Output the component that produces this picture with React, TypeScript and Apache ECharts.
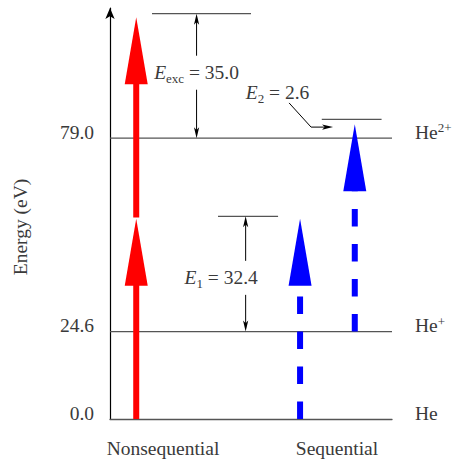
import React, { useEffect, useRef } from "react";
import * as echarts from "echarts";

// ---- data ----
const energyTicks = [0.0, 24.6, 79.0];
const stateLabels = ["He", "He+", "He2+"];
const pathwayLabels = ["Nonsequential", "Sequential"];
const pathwayLabelX = [1.88, 8.05];

// horizontal level segments: [xStart, xEnd, energy]
const levelSegments = [
  [0, 10, 24.6],
  [0, 10, 79.0],
  [3.83, 5.96, 57.0],
  [1.49, 5.0, 114.0],
  [7.51, 9.63, 84.3],
];

// nonsequential arrows (solid red): [x, from, to]
const nonseqArrows = [
  [0.93, 0.0, 56.3],
  [0.93, 56.7, 113.0],
];

// sequential arrows (dashed blue): [x, from, to]
const seqArrows = [
  [6.74, 0.0, 56.3],
  [8.68, 24.6, 82.9],
];

// dimension arrows: [x, from, to, labelCenterEnergy]
const dimArrows = [
  [3.07, 79.0, 114.0, 97.4],
  [4.81, 24.6, 57.0, 39.7],
];

// annotation labels: [x, energy]
const annoPos = [
  [3.07, 97.4],
  [3.94, 39.7],
  [5.94, 91.7],
];
const annoText = [
  "{e|E}{s|exc}{t| = 35.0}",
  "{e|E}{s|1}{t| = 32.4}",
  "{e|E}{s|2}{t| = 2.6}",
];

// E2 leader polyline (x, energy)
const leaderPts = [
  [6.35, 88.9],
  [7.13, 82.1],
  [7.91, 82.1],
];

const FONT = "'Liberation Serif', 'DejaVu Serif', serif";
const TXT = "#3a3a3a";
const FS = 19.5;

const arrowItem = (color: string, dashed: boolean) => (params: any, api: any) => {
  const x = api.value(0);
  const a = api.coord([x, api.value(1)]);
  const b = api.coord([x, api.value(2)]);
  const headLen = 67;
  const headW = 23;
  const dir = b[1] < a[1] ? -1 : 1;
  const baseY = b[1] - dir * headLen;
  return {
    type: "group",
    children: [
      {
        type: "line",
        shape: { x1: a[0], y1: a[1], x2: a[0], y2: dashed ? baseY : baseY + dir * 1 },
        style: {
          stroke: color,
          lineWidth: 6,
          lineDash: dashed ? [17.5, 17.5] : null,
          lineCap: "butt",
        },
      },
      {
        type: "polygon",
        shape: {
          points: [
            [b[0], b[1]],
            [b[0] - headW / 2, baseY],
            [b[0] + headW / 2, baseY],
          ],
        },
        style: { fill: color },
      },
    ],
  };
};

function smallHead(tx: number, ty: number, dx: number, dy: number) {
  const L = 11;
  const W = 2.6;
  const bx = tx - dx * L;
  const by = ty - dy * L;
  const px = -dy;
  const py = dx;
  return {
    type: "polygon",
    shape: {
      points: [
        [tx, ty],
        [bx + px * W, by + py * W],
        [tx - dx * L * 0.75, ty - dy * L * 0.75],
        [bx - px * W, by - py * W],
      ],
    },
    style: { fill: "#000" },
  };
}

export default function App() {
  const ref = useRef<HTMLDivElement>(null);
  useEffect(() => {
    if (!ref.current) return;
    const chart = echarts.init(ref.current, null, { renderer: "svg" });
    const richAnno = {
      e: { fontFamily: FONT, fontSize: FS, fontStyle: "italic", color: TXT, lineHeight: 24, verticalAlign: "middle" },
      s: { fontFamily: FONT, fontSize: 13, color: TXT, lineHeight: 11, verticalAlign: "bottom" },
      t: { fontFamily: FONT, fontSize: FS, color: TXT, lineHeight: 24, verticalAlign: "middle" },
    };
    chart.setOption({
      animation: false,
      grid: { left: 110, right: 63, top: 8, bottom: 43 },
      xAxis: {
        type: "value",
        min: 0,
        max: 10,
        axisLine: { show: true, lineStyle: { color: "#555", width: 1.3 } },
        axisTick: { show: false },
        splitLine: { show: false },
        axisLabel: {
          customValues: pathwayLabelX,
          formatter: (v: number) => {
            const i = pathwayLabelX.findIndex((p) => Math.abs(p - v) < 1e-6);
            return i >= 0 ? pathwayLabels[i] : "";
          },
          fontFamily: FONT,
          fontSize: FS,
          color: TXT,
          margin: 19,
        },
      },
      yAxis: [
        {
          type: "value",
          min: 0,
          max: 115.6,
          axisLine: {
            show: true,
            lineStyle: { color: "#000", width: 1.2 },
            symbol: ["none", "arrow"],
            symbolSize: [7, 11],
          },
          axisTick: { show: false },
          splitLine: { show: false },
          axisLabel: {
            customValues: energyTicks,
            formatter: (v: number) => `{v|${v.toFixed(1)}}`,
            margin: 16,
            padding: [0, 0, 12, 0],
            rich: {
              v: { fontFamily: FONT, fontSize: FS, color: TXT, lineHeight: 22, verticalAlign: "middle" },
            },
          },
        },
        {
          type: "value",
          position: "right",
          min: 0,
          max: 115.6,
          axisLine: { show: false },
          axisTick: { show: false },
          splitLine: { show: false },
          axisLabel: {
            customValues: energyTicks,
            formatter: (v: number) => {
              const i = energyTicks.findIndex((p) => Math.abs(p - v) < 1e-6);
              const s = stateLabels[i] || "";
              const m = s.match(/^He(.*)$/);
              const sup = m ? m[1] : "";
              return sup ? `{m|He}{p|${sup}}` : `{m|He}`;
            },
            margin: 23,
            padding: [0, 0, 12, 0],
            rich: {
              m: { fontFamily: FONT, fontSize: FS, color: TXT, lineHeight: 22, verticalAlign: "middle" },
              p: { fontFamily: FONT, fontSize: 13, color: TXT, lineHeight: 11, verticalAlign: "top" },
            },
          },
        },
      ],
      graphic: [
        {
          type: "text",
          x: 20,
          y: 227,
          rotation: Math.PI / 2,
          style: {
            text: "Energy (eV)",
            fontFamily: FONT,
            fontSize: FS,
            fill: TXT,
            align: "center",
            verticalAlign: "middle",
          },
        },
      ],
      series: [
        {
          type: "custom",
          name: "levels",
          data: levelSegments,
          encode: { x: [0, 1], y: 2 },
          renderItem: (params: any, api: any) => {
            const p1 = api.coord([api.value(0), api.value(2)]);
            const p2 = api.coord([api.value(1), api.value(2)]);
            return {
              type: "line",
              shape: { x1: p1[0], y1: p1[1], x2: p2[0], y2: p2[1] },
              style: { stroke: "#555", lineWidth: 1.3 },
            };
          },
        },
        {
          type: "custom",
          name: "Nonsequential",
          data: nonseqArrows,
          encode: { x: 0, y: [1, 2] },
          renderItem: arrowItem("#ff0000", false),
        },
        {
          type: "custom",
          name: "Sequential",
          data: seqArrows,
          encode: { x: 0, y: [1, 2] },
          renderItem: arrowItem("#0000ff", true),
        },
        {
          type: "custom",
          name: "dims",
          data: dimArrows,
          encode: { x: 0, y: [1, 2] },
          renderItem: (params: any, api: any) => {
            const x = api.value(0);
            const lo = api.coord([x, api.value(1)]);
            const hi = api.coord([x, api.value(2)]);
            const mid = api.coord([x, api.value(3)]);
            const gap = 17;
            return {
              type: "group",
              children: [
                {
                  type: "line",
                  shape: { x1: hi[0], y1: hi[1] + 4, x2: hi[0], y2: mid[1] - gap },
                  style: { stroke: "#000", lineWidth: 1 },
                },
                {
                  type: "line",
                  shape: { x1: lo[0], y1: mid[1] + gap, x2: lo[0], y2: lo[1] - 4 },
                  style: { stroke: "#000", lineWidth: 1 },
                },
                smallHead(hi[0], hi[1], 0, -1),
                smallHead(lo[0], lo[1], 0, 1),
              ],
            };
          },
        },
        {
          type: "custom",
          name: "leader",
          data: [leaderPts[0]],
          renderItem: (params: any, api: any) => {
            const pts = leaderPts.map((p) => api.coord(p));
            const last = pts[pts.length - 1];
            return {
              type: "group",
              children: [
                {
                  type: "polyline",
                  shape: { points: pts.slice(0, -1).concat([[last[0] - 6, last[1]]]) },
                  style: { stroke: "#000", lineWidth: 1, fill: null },
                },
                smallHead(last[0], last[1], 1, 0),
              ],
            };
          },
        },
        {
          type: "custom",
          name: "annotations",
          data: annoPos,
          renderItem: (params: any, api: any) => {
            const p = api.coord([api.value(0), api.value(1)]);
            return {
              type: "text",
              x: p[0],
              y: p[1],
              style: {
                text: annoText[params.dataIndex],
                rich: richAnno,
                align: "center",
                verticalAlign: "middle",
                fill: TXT,
              },
            };
          },
        },
      ],
    });
    return () => chart.dispose();
  }, []);
  return (
    <div
      ref={ref}
      style={{ position: "absolute", left: 0, top: 0, width: 455, height: 462 }}
    />
  );
}
